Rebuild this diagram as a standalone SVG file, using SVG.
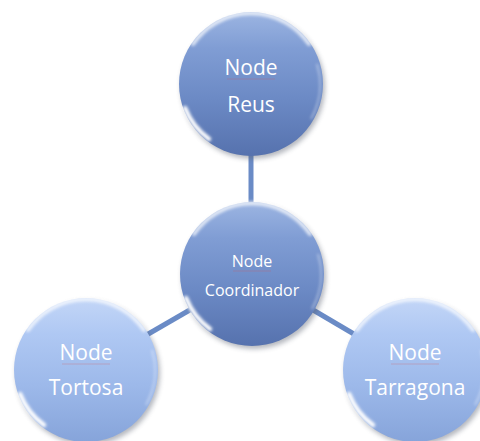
<svg xmlns="http://www.w3.org/2000/svg" width="480" height="441" viewBox="0 0 480 441">
  <defs>
    <linearGradient id="gDark" x1="0" y1="0" x2="0" y2="1">
      <stop offset="0" stop-color="#9CB5E2"/>
      <stop offset="0.25" stop-color="#809DD4"/>
      <stop offset="0.6" stop-color="#6C8AC5"/>
      <stop offset="1" stop-color="#5672AE"/>
    </linearGradient>
    <linearGradient id="gLight" x1="0" y1="0" x2="0" y2="1">
      <stop offset="0" stop-color="#C3D6F7"/>
      <stop offset="0.25" stop-color="#AFC8F3"/>
      <stop offset="0.6" stop-color="#9DB9EA"/>
      <stop offset="1" stop-color="#86A4DA"/>
    </linearGradient>
    <filter id="fShadow" x="-20%" y="-20%" width="140%" height="140%">
      <feGaussianBlur stdDeviation="2.5"/>
    </filter>
    <filter id="fSoft" x="-30%" y="-30%" width="160%" height="160%">
      <feGaussianBlur stdDeviation="1.4"/>
    </filter>
    <style>
      .conn { stroke: #6A8BC6; stroke-width: 5; fill: none; }
      .shadow { fill: #5a6170; opacity: 0.45; filter: url(#fShadow); }
      .rimTop { fill: none; stroke: #ffffff; stroke-width: 4; opacity: 0.75; filter: url(#fSoft); stroke-linecap: round; }
      .glint { fill: none; stroke: #ffffff; stroke-width: 4.5; opacity: 1; filter: url(#fSoft); stroke-linecap: round; }
      .rimRight { fill: none; stroke: #ffffff; stroke-width: 1.5; opacity: 0.5; filter: url(#fSoft); }
      .lbl { font-family: "Open Sans", "Noto Sans", sans-serif; fill: #ffffff; text-anchor: middle; }
      .big { font-size: 21px; }
      .small { font-size: 16px; }
      .spell { stroke: #d9534f; stroke-width: 0.6; opacity: 0.45; }
    </style>
  </defs>

  <g id="connectors">
    <line class="conn" x1="251" y1="150" x2="251" y2="210"/>
    <line class="conn" x1="252" y1="274" x2="86" y2="370"/>
    <line class="conn" x1="252" y1="274" x2="415" y2="370"/>
  </g>

  <g id="node-reus" transform="translate(251,84)">
    <circle class="shadow" cx="2" cy="3" r="72"/>
    <circle r="72" fill="url(#gDark)"/>
    <path class="rimTop" d="M -58 -40 A 70 70 0 0 1 58 -40"/>
    <path class="glint" d="M -66 24 A 70 70 0 0 0 -42 55"/>
    <path class="rimRight" d="M 66 -20 A 70 70 0 0 1 60 35"/>
    <text class="lbl big" x="0" y="-9">Node</text>
    <line class="spell" x1="-24" y1="-5" x2="24" y2="-5"/>
    <text class="lbl big" x="0" y="28">Reus</text>
  </g>

  <g id="node-coordinador" transform="translate(252,274)">
    <circle class="shadow" cx="2" cy="3" r="72"/>
    <circle r="72" fill="url(#gDark)"/>
    <path class="rimTop" d="M -58 -40 A 70 70 0 0 1 58 -40"/>
    <path class="glint" d="M -66 24 A 70 70 0 0 0 -42 55"/>
    <path class="rimRight" d="M 66 -20 A 70 70 0 0 1 60 35"/>
    <text class="lbl small" x="0" y="-7">Node</text>
    <line class="spell" x1="-19" y1="-3" x2="19" y2="-3"/>
    <text class="lbl small" x="0" y="22">Coordinador</text>
  </g>

  <g id="node-tortosa" transform="translate(86,370)">
    <circle class="shadow" cx="2" cy="3" r="72"/>
    <circle r="72" fill="url(#gLight)"/>
    <path class="rimTop" d="M -58 -40 A 70 70 0 0 1 58 -40"/>
    <path class="glint" d="M -66 24 A 70 70 0 0 0 -42 55"/>
    <path class="rimRight" d="M 66 -20 A 70 70 0 0 1 60 35"/>
    <text class="lbl big" x="0" y="-10">Node</text>
    <line class="spell" x1="-24" y1="-6" x2="24" y2="-6"/>
    <text class="lbl big" x="0" y="25">Tortosa</text>
  </g>

  <g id="node-tarragona" transform="translate(415,370)">
    <circle class="shadow" cx="2" cy="3" r="72"/>
    <circle r="72" fill="url(#gLight)"/>
    <path class="rimTop" d="M -58 -40 A 70 70 0 0 1 58 -40"/>
    <path class="glint" d="M -66 24 A 70 70 0 0 0 -42 55"/>
    <path class="rimRight" d="M 66 -20 A 70 70 0 0 1 60 35"/>
    <text class="lbl big" x="0" y="-10">Node</text>
    <line class="spell" x1="-24" y1="-6" x2="24" y2="-6"/>
    <text class="lbl big" x="0" y="25">Tarragona</text>
  </g>
</svg>
